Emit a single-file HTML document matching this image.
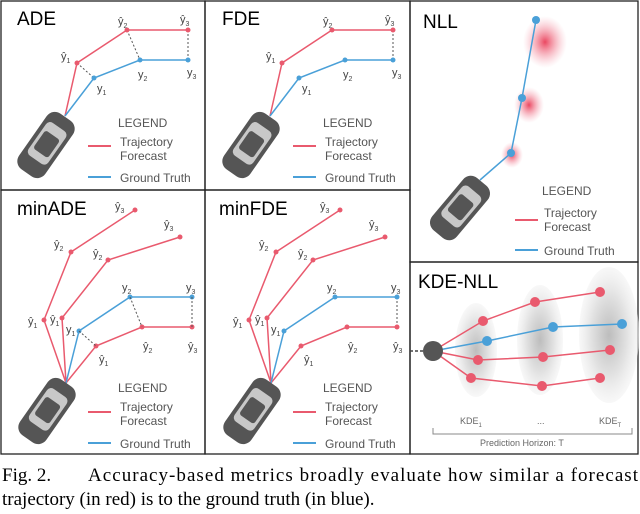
<!DOCTYPE html>
<html><head><meta charset="utf-8"><style>
body{margin:0;background:#fff;width:640px;height:514px;overflow:hidden}
svg{display:block}
.t{font-family:"Liberation Sans",sans-serif}
.cap{font-family:"Liberation Serif",serif;font-size:19px;fill:#000}
</style></head><body>
<svg width="640" height="514" viewBox="0 0 640 514" xmlns="http://www.w3.org/2000/svg">
<defs>
<g id="car">
<rect x="-16" y="-34" width="32" height="68" rx="10" fill="#555"/>
<rect x="-12" y="-22" width="24" height="40" rx="5" fill="#c8c8c8"/>
<rect x="-9" y="-12" width="18" height="22" rx="3" fill="#555"/>
</g>
<radialGradient id="rg"><stop offset="0" stop-color="#e8334f" stop-opacity=".9"/><stop offset="1" stop-color="#f5a0b0" stop-opacity="0"/></radialGradient>
<radialGradient id="gg"><stop offset="0" stop-color="#bdbdbd"/><stop offset=".6" stop-color="#e2e2e2"/><stop offset="1" stop-color="#f3f3f3" stop-opacity=".6"/></radialGradient>
</defs>
<g fill="none" stroke="#222" stroke-width="1.3">
<rect x="1" y="1" width="204" height="189"/><rect x="205" y="1" width="205" height="189"/>
<rect x="410" y="1" width="228" height="261"/><rect x="1" y="190" width="204" height="264"/>
<rect x="205" y="190" width="205" height="264"/><rect x="410" y="262" width="228" height="192"/>
</g>
<g class="t" font-size="19" fill="#000">
<text x="17" y="25">ADE</text><text x="222" y="25">FDE</text><text x="423" y="28">NLL</text>
<text x="17" y="215">minADE</text><text x="219" y="215">minFDE</text><text x="418" y="288">KDE-NLL</text>
</g>
<g class="t" font-size="12" fill="#555">
<text x="118" y="127">LEGEND</text><text x="120" y="146">Trajectory</text><text x="120" y="160">Forecast</text><text x="120" y="182">Ground Truth</text>
<text x="323" y="127">LEGEND</text><text x="325" y="146">Trajectory</text><text x="325" y="160">Forecast</text><text x="325" y="182">Ground Truth</text>
<text x="542" y="195">LEGEND</text><text x="544" y="217">Trajectory</text><text x="544" y="231">Forecast</text><text x="544" y="255">Ground Truth</text>
<text x="118" y="392">LEGEND</text><text x="120" y="411">Trajectory</text><text x="120" y="425">Forecast</text><text x="120" y="448">Ground Truth</text>
<text x="323" y="392">LEGEND</text><text x="325" y="411">Trajectory</text><text x="325" y="425">Forecast</text><text x="325" y="448">Ground Truth</text>
</g>
<g stroke-width="2">
<line x1="88" y1="146" x2="111" y2="146" stroke="#e95a6e"/><line x1="88" y1="177" x2="111" y2="177" stroke="#4aa0d8"/>
<line x1="293" y1="146" x2="316" y2="146" stroke="#e95a6e"/><line x1="293" y1="177" x2="316" y2="177" stroke="#4aa0d8"/>
<line x1="515" y1="220" x2="538" y2="220" stroke="#e95a6e"/><line x1="515" y1="250" x2="538" y2="250" stroke="#4aa0d8"/>
<line x1="88" y1="412" x2="111" y2="412" stroke="#e95a6e"/><line x1="88" y1="443" x2="111" y2="443" stroke="#4aa0d8"/>
<line x1="293" y1="412" x2="316" y2="412" stroke="#e95a6e"/><line x1="293" y1="443" x2="316" y2="443" stroke="#4aa0d8"/>
</g>
<g fill="none" stroke-width="1.5">
<polyline points="65,116 77,63 127,30 188,30" stroke="#e95a6e"/>
<polyline points="65,116 94,78 140,60 188,60" stroke="#4aa0d8"/>
<polyline points="270,116 282,63 332,30 393,30" stroke="#e95a6e"/>
<polyline points="270,116 299,78 345,60 393,60" stroke="#4aa0d8"/>
</g>
<g stroke="#555" stroke-dasharray="2,2" stroke-width="1">
<line x1="77" y1="63" x2="94" y2="78"/><line x1="127" y1="30" x2="140" y2="60"/><line x1="188" y1="30" x2="188" y2="60"/>
<line x1="393" y1="30" x2="393" y2="60"/>
</g>
<g fill="#e95a6e"><circle cx="77" cy="63" r="2.5"/><circle cx="127" cy="30" r="2.5"/><circle cx="188" cy="30" r="2.5"/>
<circle cx="282" cy="63" r="2.5"/><circle cx="332" cy="30" r="2.5"/><circle cx="393" cy="30" r="2.5"/></g>
<g fill="#4aa0d8"><circle cx="94" cy="78" r="2.5"/><circle cx="140" cy="60" r="2.5"/><circle cx="188" cy="60" r="2.5"/>
<circle cx="299" cy="78" r="2.5"/><circle cx="345" cy="60" r="2.5"/><circle cx="393" cy="60" r="2.5"/></g>
<g class="t" font-size="11" fill="#444">
<text x="61" y="60">ŷ<tspan font-size="7" dy="3">1</tspan></text><text x="118" y="25">ŷ<tspan font-size="7" dy="3">2</tspan></text><text x="180" y="23">ŷ<tspan font-size="7" dy="3">3</tspan></text>
<text x="97" y="92">y<tspan font-size="7" dy="3">1</tspan></text><text x="138" y="78">y<tspan font-size="7" dy="3">2</tspan></text><text x="187" y="76">y<tspan font-size="7" dy="3">3</tspan></text>
<text x="266" y="60">ŷ<tspan font-size="7" dy="3">1</tspan></text><text x="323" y="25">ŷ<tspan font-size="7" dy="3">2</tspan></text><text x="385" y="23">ŷ<tspan font-size="7" dy="3">3</tspan></text>
<text x="302" y="92">y<tspan font-size="7" dy="3">1</tspan></text><text x="343" y="78">y<tspan font-size="7" dy="3">2</tspan></text><text x="392" y="76">y<tspan font-size="7" dy="3">3</tspan></text>
</g>
<use href="#car" transform="translate(46,145) rotate(35)"/>
<use href="#car" transform="translate(251,145) rotate(35)"/>
<ellipse cx="545" cy="42" rx="22" ry="26" fill="url(#rg)"/>
<ellipse cx="529" cy="105" rx="15" ry="18" fill="url(#rg)"/>
<ellipse cx="512" cy="155" rx="11" ry="13" fill="url(#rg)"/>
<polyline points="480,180 511,153 522,98 536,20" fill="none" stroke="#4aa0d8" stroke-width="1.5"/>
<g fill="#4aa0d8"><circle cx="536" cy="20" r="4"/><circle cx="522" cy="98" r="4"/><circle cx="511" cy="153" r="4"/></g>
<use href="#car" transform="translate(460,208) rotate(40)"/>
<g id="mn">
<g fill="none" stroke-width="1.5" stroke="#e95a6e">
<polyline points="66,383 44,320 71,252 135,210"/>
<polyline points="66,383 62,318 108,260 180,237"/>
<polyline points="66,383 96,346 142,327 192,327"/>
</g>
<polyline points="66,383 79,331 130,297 192,297" fill="none" stroke="#4aa0d8" stroke-width="1.5"/>
<g fill="#e95a6e"><circle cx="44" cy="320" r="2.5"/><circle cx="71" cy="252" r="2.5"/><circle cx="135" cy="210" r="2.5"/>
<circle cx="62" cy="318" r="2.5"/><circle cx="108" cy="260" r="2.5"/><circle cx="180" cy="237" r="2.5"/>
<circle cx="96" cy="346" r="2.5"/><circle cx="142" cy="327" r="2.5"/><circle cx="192" cy="327" r="2.5"/></g>
<g fill="#4aa0d8"><circle cx="79" cy="331" r="2.5"/><circle cx="130" cy="297" r="2.5"/><circle cx="192" cy="297" r="2.5"/></g>
<g class="t" font-size="11" fill="#444">
<text x="28" y="325">ŷ<tspan font-size="7" dy="3">1</tspan></text><text x="50" y="323">ŷ<tspan font-size="7" dy="3">1</tspan></text><text x="99" y="363">ŷ<tspan font-size="7" dy="3">1</tspan></text>
<text x="54" y="248">ŷ<tspan font-size="7" dy="3">2</tspan></text><text x="93" y="257">ŷ<tspan font-size="7" dy="3">2</tspan></text><text x="143" y="350">ŷ<tspan font-size="7" dy="3">2</tspan></text>
<text x="115" y="210">ŷ<tspan font-size="7" dy="3">3</tspan></text><text x="164" y="228">ŷ<tspan font-size="7" dy="3">3</tspan></text><text x="188" y="350">ŷ<tspan font-size="7" dy="3">3</tspan></text>
<text x="66" y="333">y<tspan font-size="7" dy="3">1</tspan></text><text x="122" y="291">y<tspan font-size="7" dy="3">2</tspan></text><text x="186" y="291">y<tspan font-size="7" dy="3">3</tspan></text>
</g>
<use href="#car" transform="translate(47,411) rotate(35)"/>
</g>
<g stroke="#555" stroke-dasharray="2,2" stroke-width="1">
<line x1="79" y1="331" x2="96" y2="346"/><line x1="130" y1="297" x2="142" y2="327"/><line x1="192" y1="297" x2="192" y2="327"/>
<line x1="397" y1="297" x2="397" y2="327"/>
</g>
<use href="#mn" transform="translate(205,0)"/>
<ellipse cx="476" cy="350" rx="21" ry="47" fill="url(#gg)"/>
<ellipse cx="540" cy="340" rx="23" ry="55" fill="url(#gg)"/>
<ellipse cx="609" cy="335" rx="30" ry="68" fill="url(#gg)"/>
<line x1="410" y1="351" x2="424" y2="351" stroke="#444" stroke-dasharray="3,2" stroke-width="1.5"/>
<g fill="none" stroke-width="1.5" stroke="#e95a6e">
<polyline points="433,351 483,321 535,302 600,292"/>
<polyline points="433,351 478,360 543,357 610,350"/>
<polyline points="433,351 471,378 542,386 600,378"/>
</g>
<polyline points="433,351 487,341 553,327 622,324" fill="none" stroke="#4aa0d8" stroke-width="1.5"/>
<g fill="#e95a6e"><circle cx="483" cy="321" r="5"/><circle cx="535" cy="302" r="5"/><circle cx="600" cy="292" r="5"/>
<circle cx="478" cy="360" r="5"/><circle cx="543" cy="357" r="5"/><circle cx="610" cy="350" r="5"/>
<circle cx="471" cy="378" r="5"/><circle cx="542" cy="386" r="5"/><circle cx="600" cy="378" r="5"/></g>
<g fill="#4aa0d8"><circle cx="487" cy="341" r="5"/><circle cx="553" cy="327" r="5"/><circle cx="622" cy="324" r="5"/></g>
<circle cx="433" cy="351" r="10" fill="#555"/>
<g class="t" font-size="9" fill="#666">
<text x="460" y="424">KDE<tspan font-size="6" dy="3">1</tspan></text><text x="537" y="424">...</text><text x="599" y="424">KDE<tspan font-size="6" dy="3">T</tspan></text>
<text x="480" y="446">Prediction Horizon: T</text>
</g>
<polyline points="433,428 433,434 632,434 632,428" fill="none" stroke="#888"/>
<text class="cap" x="2" y="481">Fig. 2.</text>
<text class="cap" x="88" y="481" textLength="550" lengthAdjust="spacing">Accuracy-based metrics broadly evaluate how similar a forecast</text>
<text class="cap" x="2" y="505">trajectory (in red) is to the ground truth (in blue).</text>
</svg>
</body></html>
